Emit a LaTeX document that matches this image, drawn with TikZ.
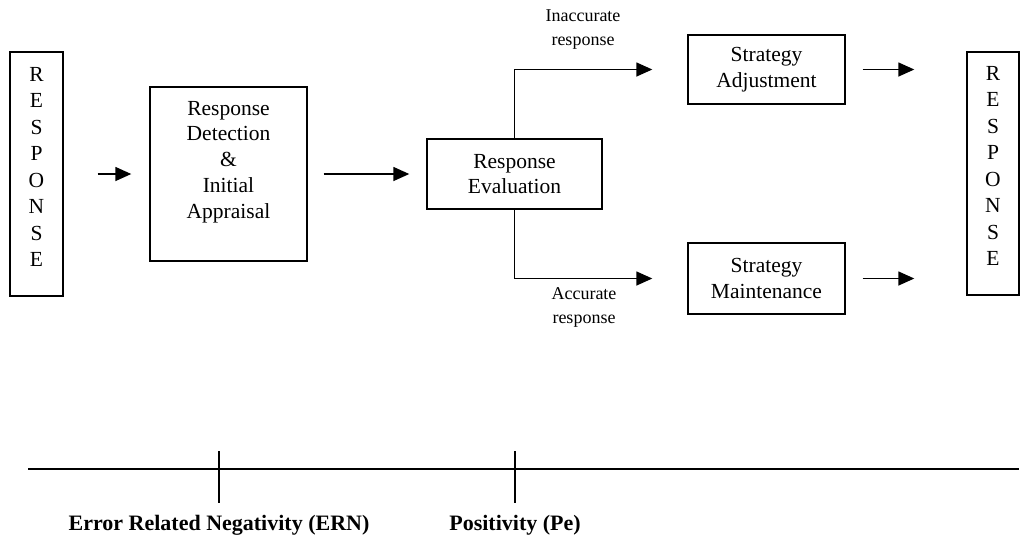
\documentclass[tikz,border=0pt]{standalone}
\usepackage{fontspec}
\setmainfont{Liberation Serif}
\usetikzlibrary{arrows.meta}
\tikzset{
	block/.style={draw, line width=1.4pt, inner sep=0pt},
	flow/.style={line width=1.5pt, -{Triangle[length=16pt, width=14pt]}},
	bodytext/.style={align=center, font=\fontsize{21.5}{25.8}\selectfont},
	lettertext/.style={align=center, font=\fontsize{21.5}{26.5}\selectfont},
	branchtext/.style={align=center, font=\fontsize{18}{24}\selectfont},
	wavetext/.style={font=\fontsize{22}{26}\selectfont\bfseries},
}

\begin{document}
\begin{tikzpicture}[x=1pt, y=-1pt]
			%%%%% START %%%%%
			\useasboundingbox (0, 0) rectangle (1021, 550);
			
			\node[block, minimum width=53pt, minimum height=244pt] (respL) at (36.5, 174) {};
			\node[lettertext] (respLtxt) at (36.5, 167) {R\\E\\S\\P\\O\\N\\S\\E};
			
			\node[block, minimum width=157pt, minimum height=174pt] (detect) at (228.5, 174) {};
			\node[bodytext] (detecttxt) at (228.5, 162) {Response\\Detection\\\&\\Initial\\Appraisal};
			
			\node[block, bodytext, minimum width=175pt, minimum height=70pt] (eval) at (514.5, 174) {Response\\Evaluation};
			
			\node[block, bodytext, minimum width=157pt, minimum height=69pt] (adjust) at (766.5, 69.5) {Strategy\\Adjustment};
			\node[block, bodytext, minimum width=157pt, minimum height=71pt] (maintain) at (766.5, 278.5) {Strategy\\Maintenance};
			
			\node[block, minimum width=52pt, minimum height=243pt] (respR) at (993, 173.5) {};
			\node[lettertext] (respRtxt) at (993, 166) {R\\E\\S\\P\\O\\N\\S\\E};
			
			\node[branchtext] (inacc) at (583, 30) {Inaccurate\\response};
			\node[branchtext] (acc) at (584, 307.5) {Accurate\\response};
			
			\draw[flow, shorten <=34pt, shorten >=18pt] (respL) -- (detect);
			\draw[flow, shorten <=16pt, shorten >=17pt] (detect) -- (eval);
			\draw[flow, shorten >=35pt] (eval.north) |- (adjust.west);
			\draw[flow, shorten >=35pt] (eval.south) |- (maintain.west);
			\draw[flow, shorten <=17pt, shorten >=52pt] (adjust.east) -- (adjust.east -| respR.west);
			\draw[flow, shorten <=17pt, shorten >=52pt] (maintain.east) -- (maintain.east -| respR.west);
			
			% time axis
			\coordinate (tstart) at (28, 469);
			\coordinate (tend) at (1019, 469);
			\coordinate (ernmark) at (219, 469);
			\coordinate (pemark) at (515, 469);
			\draw[line width=1.5pt] (tstart) -- (tend);
			\draw[line width=1.5pt] (ernmark) ++(0, -18) -- ++(0, 52);
			\draw[line width=1.5pt] (pemark) ++(0, -18) -- ++(0, 52);
			
			\node[wavetext] (ern) at (219, 525) {Error Related Negativity (ERN)};
			\node[wavetext] (pe) at (515, 525) {Positivity (Pe)};
			
			%%%%% END %%%%%
\end{tikzpicture}
\end{document}
